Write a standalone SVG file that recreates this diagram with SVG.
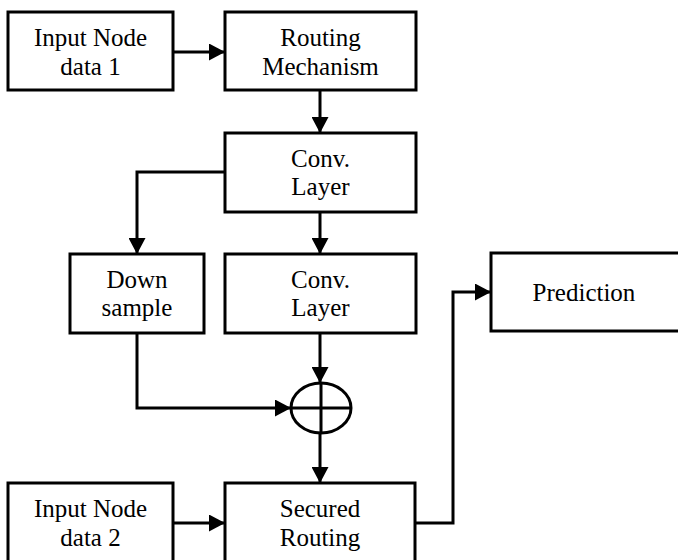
<svg xmlns="http://www.w3.org/2000/svg" width="678" height="560" viewBox="0 0 678 560">
<defs>
<style>
.box{fill:#fff;stroke:#000;stroke-width:3}
.ln{fill:none;stroke:#000;stroke-width:3}
text{font-family:"Liberation Serif","Times New Roman",serif;font-size:25px;fill:#000;text-anchor:middle}
</style>
<marker id="ah" markerUnits="userSpaceOnUse" markerWidth="16" markerHeight="17" refX="16" refY="8.5" orient="auto">
<path d="M0,0 L16,8.5 L0,17 z" fill="#000"/>
</marker>
</defs>
<rect width="678" height="560" fill="#fff"/>
<g id="connectors">
<path class="ln" d="M173,52 H225" marker-end="url(#ah)"/>
<path class="ln" d="M320,90 V133" marker-end="url(#ah)"/>
<path class="ln" d="M320,212 V254" marker-end="url(#ah)"/>
<path class="ln" d="M225,172 H137 V254" marker-end="url(#ah)"/>
<path class="ln" d="M320,333 V383" marker-end="url(#ah)"/>
<path class="ln" d="M137,333 V408 H291" marker-end="url(#ah)"/>
<path class="ln" d="M320,433 V483" marker-end="url(#ah)"/>
<path class="ln" d="M173,523 H225" marker-end="url(#ah)"/>
<path class="ln" d="M415,523 H453 V292 H491" marker-end="url(#ah)"/>
</g>
<g id="input1">
<rect class="box" x="8" y="12" width="165" height="78"/>
<text x="90.5" y="46">Input Node</text>
<text x="90.5" y="75">data 1</text>
</g>
<g id="routing">
<rect class="box" x="225" y="12" width="191" height="78"/>
<text x="320.5" y="46">Routing</text>
<text x="320.5" y="75">Mechanism</text>
</g>
<g id="conv1">
<rect class="box" x="225" y="133" width="191" height="79"/>
<text x="320.5" y="167">Conv.</text>
<text x="320.5" y="195">Layer</text>
</g>
<g id="downsample">
<rect class="box" x="70" y="254" width="134" height="79"/>
<text x="137" y="288">Down</text>
<text x="137" y="316">sample</text>
</g>
<g id="conv2">
<rect class="box" x="225" y="254" width="191" height="79"/>
<text x="320.5" y="288">Conv.</text>
<text x="320.5" y="316">Layer</text>
</g>
<g id="sum">
<ellipse class="ln" cx="321" cy="408" rx="30" ry="25"/>
<path class="ln" d="M291,408 H351 M321,383 V433"/>
</g>
<g id="prediction">
<rect class="box" x="491" y="253" width="200" height="78"/>
<text x="584" y="301">Prediction</text>
</g>
<g id="input2">
<rect class="box" x="8" y="483" width="165" height="90"/>
<text x="90.5" y="517">Input Node</text>
<text x="90.5" y="546">data 2</text>
</g>
<g id="secured">
<rect class="box" x="225" y="483" width="190" height="90"/>
<text x="320" y="517">Secured</text>
<text x="320" y="546">Routing</text>
</g>
</svg>
